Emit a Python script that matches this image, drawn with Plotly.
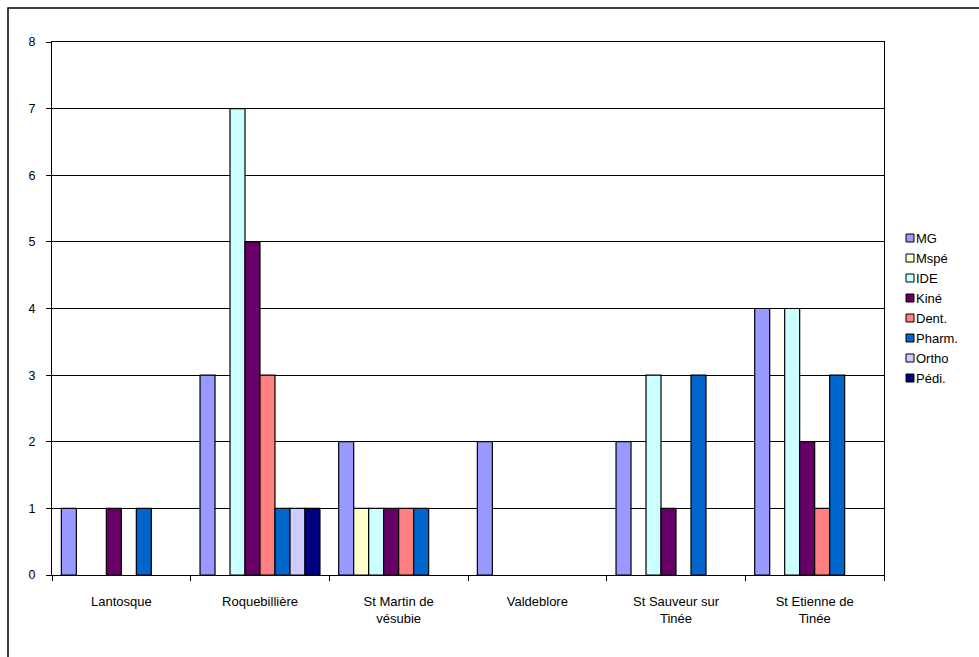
import plotly.graph_objects as go

categories = ["Lantosque", "Roquebillière", "St Martin de<br>vésubie", "Valdeblore",
              "St Sauveur sur<br>Tinée", "St Etienne de<br>Tinée"]
series_names = ["MG", "Mspé", "IDE", "Kiné", "Dent.", "Pharm.", "Ortho", "Pédi."]
MG = [1, 3, 2, 2, 2, 4]
Mspe = [0, 0, 1, 0, 0, 0]
IDE = [0, 7, 1, 0, 3, 4]
Kine = [1, 5, 1, 0, 1, 2]
Dent = [0, 3, 1, 0, 0, 1]
Pharm = [1, 1, 1, 0, 3, 3]
Ortho = [0, 1, 0, 0, 0, 0]
Pedi = [0, 1, 0, 0, 0, 0]
series_values = [MG, Mspe, IDE, Kine, Dent, Pharm, Ortho, Pedi]
colors = ["#9999FF", "#FFFFCC", "#CCFFFF", "#660066", "#FF8080", "#0066CC", "#CCCCFF", "#000080"]
y_ticks = [0, 1, 2, 3, 4, 5, 6, 7, 8]

fig = go.Figure()
for name, vals, c in zip(series_names, series_values, colors):
    fig.add_trace(go.Bar(
        x=categories, y=vals, name=name, showlegend=False,
        marker=dict(color=c, line=dict(color="black",
                                       width=[1.2 if v > 0 else 0 for v in vals])),
    ))

W, H = 979, 657
L, R, T, B = 52, 95, 42, 82
pw, ph = W - L - R, H - T - B


def px_x(x):
    return (x - L) / pw


def px_y(y):
    return (H - B - y) / ph


fig.update_layout(
    width=W, height=H,
    margin=dict(l=L, r=R, t=T, b=B, pad=0),
    paper_bgcolor="white", plot_bgcolor="white",
    barmode="group", bargap=0.135, bargroupgap=0,
    font=dict(family="Liberation Sans, Arial, sans-serif", size=13, color="black"),
    showlegend=False,
    xaxis=dict(type="category", showline=True, linecolor="black", linewidth=1,
               mirror=True, ticks="outside", tickson="boundaries", ticklen=5,
               tickcolor="black", showgrid=False, ticklabelstandoff=14,
               tickfont=dict(size=13)),
    yaxis=dict(range=[0, 8], tickvals=y_ticks, showline=True, linecolor="black",
               linewidth=1, mirror=True, ticks="outside", ticklen=5, tickcolor="black",
               showgrid=True, gridcolor="black", gridwidth=1, zeroline=False,
               ticklabelstandoff=8, tickfont=dict(size=12.5)),
)

# outer chart border (left and top visible)
fig.add_shape(type="rect", xref="paper", yref="paper",
              x0=px_x(8), x1=px_x(W + 30), y0=px_y(H + 30), y1=px_y(8),
              line=dict(color="black", width=1.5), fillcolor="rgba(0,0,0,0)", layer="below")

# legend (Excel style: small square swatch + label)
leg_x, leg_y0, leg_dy, sw = 906, 238, 20, 8
for i, (name, c) in enumerate(zip(series_names, colors)):
    cy = leg_y0 + i * leg_dy
    fig.add_shape(type="rect", xref="paper", yref="paper",
                  x0=px_x(leg_x), x1=px_x(leg_x + sw),
                  y0=px_y(cy + sw / 2), y1=px_y(cy - sw / 2),
                  line=dict(color="black", width=1), fillcolor=c)
    fig.add_annotation(xref="paper", yref="paper", x=px_x(leg_x + sw), y=px_y(cy),
                       text=name, showarrow=False, xanchor="left", yanchor="middle",
                       font=dict(size=13, color="black"))

fig.write_html("out.html")
